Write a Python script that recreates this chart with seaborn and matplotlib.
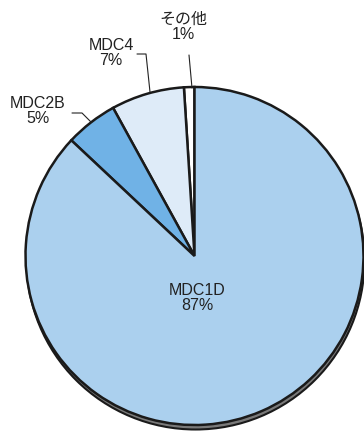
import matplotlib
matplotlib.use("Agg")
import matplotlib.pyplot as plt
import seaborn as sns
from matplotlib.patches import Circle

# data (counter-clockwise from 12 o'clock)
labels = ["その他", "MDC4", "MDC2B", "MDC1D"]
shares = [1, 7, 5, 87]
colors = ["#ffffff", "#deebf8", "#70b2e6", "#abd0ee"]

sns.set_theme(style="white")
plt.rcParams['font.family'] = ['Liberation Sans', 'Noto Sans CJK JP']

W, H = 364, 433
fig = plt.figure(figsize=(W / 100, H / 100), dpi=100)
ax = fig.add_axes([0, 0, 1, 1])

cx, cy, r = 194.5, H - 256, 169

# drop shadow under the pie
ax.add_patch(Circle((cx + 1, cy - 4.5), r, facecolor="#7a7a7a",
                    edgecolor="#1a1a1a", lw=1.5, zorder=0))

wedges, _ = ax.pie(shares, colors=colors, startangle=90, counterclock=True,
                   center=(cx, cy), radius=r,
                   wedgeprops=dict(edgecolor="#1a1a1a", linewidth=1.8))
for w in wedges:
    w.set_zorder(1)

ax.set_xlim(0, W)
ax.set_ylim(0, H)
ax.set_aspect('equal')
ax.axis('off')

fs = 11.5
tc = "#222222"
# labels with leader lines
ax.text(197, H - 298, "MDC1D\n87%", ha="center", va="center", fontsize=fs,
        color=tc, linespacing=1.0)
ax.text(38, H - 111, "MDC2B\n5%", ha="center", va="center", fontsize=fs,
        color=tc, linespacing=1.0)
ax.plot([72, 82, 91], [H - 113, H - 113, H - 122], color=tc, lw=0.8)
ax.text(111, H - 53, "MDC4\n7%", ha="center", va="center", fontsize=fs,
        color=tc, linespacing=1.0)
ax.plot([137, 146, 150], [H - 54, H - 54, H - 92], color=tc, lw=0.8)
ax.text(183, H - 27, "その他\n1%", ha="center", va="center", fontsize=fs,
        color=tc, linespacing=1.0)
ax.plot([189, 192], [H - 55, H - 88], color=tc, lw=0.8)

plt.savefig("out.png", dpi=100)
plt.close()
